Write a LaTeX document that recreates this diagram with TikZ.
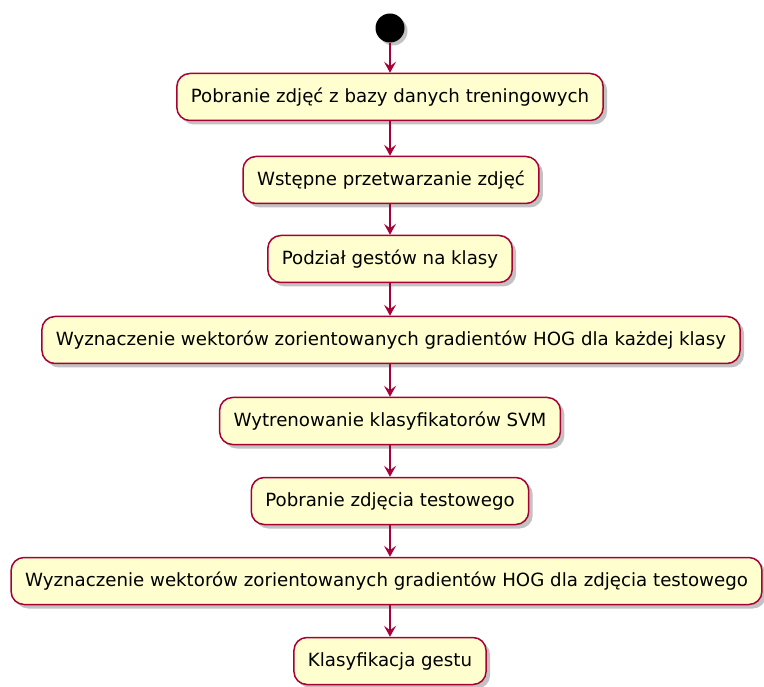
\documentclass[tikz,border=0pt]{standalone}
\usepackage{fontspec}
\setmainfont{DejaVu Sans}
\usetikzlibrary{shadows,arrows.meta}
\definecolor{umlred}{HTML}{A80036}
\definecolor{umlfill}{HTML}{FEFECE}
\tikzset{
  act/.style={draw=umlred, line width=1.5pt, fill=umlfill, rounded corners=13pt,
    minimum height=47pt, inner xsep=14pt, font=\fontsize{18.2}{22}\selectfont,
    drop shadow={shadow xshift=4pt, shadow yshift=-4pt, opacity=0.4, fill=black!60}},
  flow/.style={draw=umlred, line width=1.3pt, -{Stealth[length=11pt,width=12pt,inset=4.5pt]}},
  startdot/.style={circle, fill=black, minimum size=29pt, inner sep=0pt,
    drop shadow={shadow xshift=3pt, shadow yshift=-3pt, opacity=0.4, fill=black!60}}
}
\begin{document}
\begin{tikzpicture}[x=1pt,y=-1pt]
\useasboundingbox (0,0) rectangle (764,687);
\node[startdot] (s) at (390,28) {};
\node[act] (n1) at (390,97) {Pobranie zdjęć z bazy danych treningowych};
\node[act] (n2) at (391,180) {Wstępne przetwarzanie zdjęć};
\node[act] (n3) at (390,259) {Podział gestów na klasy};
\node[act] (n4) at (391,340) {Wyznaczenie wektorów zorientowanych gradientów HOG dla każdej klasy};
\node[act] (n5) at (390,421) {Wytrenowanie klasyfikatorów SVM};
\node[act] (n6) at (390,501) {Pobranie zdjęcia testowego};
\node[act] (n7) at (386.5,581) {Wyznaczenie wektorów zorientowanych gradientów HOG dla zdjęcia testowego};
\node[act] (n8) at (390,661) {Klasyfikacja gestu};
\draw[flow] (s) -- (s |- n1.north);
\draw[flow] (s |- n1.south) -- (s |- n2.north);
\draw[flow] (s |- n2.south) -- (s |- n3.north);
\draw[flow] (s |- n3.south) -- (s |- n4.north);
\draw[flow] (s |- n4.south) -- (s |- n5.north);
\draw[flow] (s |- n5.south) -- (s |- n6.north);
\draw[flow] (s |- n6.south) -- (s |- n7.north);
\draw[flow] (s |- n7.south) -- (s |- n8.north);
\end{tikzpicture}
\end{document}
